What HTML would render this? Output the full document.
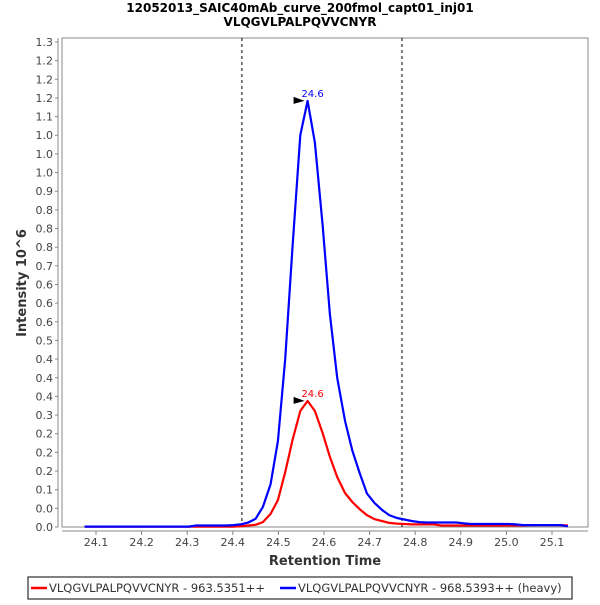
<!DOCTYPE html>
<html><head><meta charset="utf-8"><style>
body{margin:0;background:#fff;width:600px;height:600px;overflow:hidden;font-family:"Liberation Sans","DejaVu Sans",sans-serif}
</style></head><body>
<svg id="c" width="600" height="600" xmlns="http://www.w3.org/2000/svg" font-family="DejaVu Sans, Liberation Sans, sans-serif">
<text x="300" y="12" text-anchor="middle" font-size="12" font-weight="bold" fill="#000">12052013_SAIC40mAb_curve_200fmol_capt01_inj01</text>
<text x="300" y="26" text-anchor="middle" font-size="12" font-weight="bold" fill="#000">VLQGVLPALPQVVCNYR</text>
<rect x="62" y="38" width="526" height="489" fill="#fff" stroke="#888" stroke-width="1"/>
<g id="yt"></g><g id="xt"></g><g id="series"></g>
<text transform="translate(26,283) rotate(-90)" text-anchor="middle" font-size="13" font-weight="bold" fill="#333">Intensity 10^6</text>
<text x="325" y="565" text-anchor="middle" font-size="13" font-weight="bold" fill="#333">Retention Time</text>
<g>
<rect x="28" y="577" width="544" height="22" fill="#fff" stroke="#000"/>
<line x1="31" y1="588" x2="47" y2="588" stroke="#f00" stroke-width="2.5"/>
<text x="49" y="592" font-size="11.5" fill="#333">VLQGVLPALPQVVCNYR - 963.5351++</text>
<line x1="280" y1="588" x2="296" y2="588" stroke="#00f" stroke-width="2.5"/>
<text x="298" y="592" font-size="11.5" fill="#333">VLQGVLPALPQVVCNYR - 968.5393++ (heavy)</text>
</g>
</svg>
<script>
const times=[24.075,24.091,24.108,24.124,24.140,24.157,24.173,24.189,24.205,24.222,24.238,24.254,24.271,24.287,24.303,24.320,24.336,24.352,24.368,24.385,24.401,24.417,24.434,24.450,24.466,24.483,24.499,24.515,24.531,24.548,24.564,24.580,24.597,24.613,24.629,24.646,24.662,24.678,24.694,24.711,24.727,24.743,24.760,24.776,24.792,24.809,24.825,24.841,24.857,24.874,24.890,24.906,24.923,24.939,24.955,24.972,24.988,25.004,25.020,25.037,25.053,25.069,25.086,25.102,25.118,25.135];
const heavy=[0.001,0.001,0.001,0.001,0.001,0.001,0.001,0.001,0.001,0.001,0.001,0.001,0.001,0.001,0.001,0.004,0.004,0.004,0.004,0.004,0.005,0.007,0.012,0.022,0.054,0.115,0.23,0.45,0.75,1.05,1.142,1.03,0.81,0.57,0.40,0.285,0.205,0.145,0.09,0.064,0.046,0.032,0.024,0.02,0.016,0.013,0.012,0.012,0.012,0.012,0.012,0.01,0.008,0.008,0.008,0.008,0.008,0.008,0.007,0.005,0.005,0.005,0.005,0.005,0.005,0.002];
const light=[0.001,0.001,0.001,0.001,0.001,0.001,0.001,0.001,0.001,0.001,0.001,0.001,0.001,0.001,0.001,0.001,0.001,0.001,0.001,0.001,0.001,0.002,0.004,0.006,0.013,0.035,0.072,0.147,0.233,0.311,0.338,0.311,0.252,0.188,0.134,0.091,0.067,0.048,0.032,0.021,0.016,0.011,0.009,0.008,0.007,0.007,0.007,0.007,0.004,0.004,0.004,0.004,0.004,0.004,0.004,0.004,0.004,0.004,0.004,0.004,0.005,0.005,0.005,0.005,0.005,0.004];
const xTicks=[24.1,24.2,24.3,24.4,24.5,24.6,24.7,24.8,24.9,25.0,25.1];
const xTickLabels=["24.1","24.2","24.3","24.4","24.5","24.6","24.7","24.8","24.9","25.0","25.1"];
const yTicks=[0,0.05,0.1,0.15,0.2,0.25,0.3,0.35,0.4,0.45,0.5,0.55,0.6,0.65,0.7,0.75,0.8,0.85,0.9,0.95,1.0,1.05,1.1,1.15,1.2,1.25,1.3];
const yTickLabels=["0.0","0.0","0.1","0.2","0.2","0.2","0.3","0.4","0.4","0.4","0.5","0.6","0.6","0.6","0.7","0.8","0.8","0.8","0.9","1.0","1.0","1.0","1.1","1.2","1.2","1.2","1.3"];
const boundaries=[24.42,24.771];
const NS="http://www.w3.org/2000/svg";
const X=t=>96+(t-24.1)*456;
const Y=v=>527-v*373.1;
function mk(tag,attrs,parent){const e=document.createElementNS(NS,tag);for(const k in attrs)e.setAttribute(k,attrs[k]);parent.appendChild(e);return e;}
const yt=document.getElementById('yt'),xt=document.getElementById('xt'),sg=document.getElementById('series');
mk('line',{x1:58,y1:38,x2:58,y2:527,stroke:'#888'},yt);
mk('line',{x1:62,y1:531,x2:588,y2:531,stroke:'#888'},xt);
yTicks.forEach((v,i)=>{
 const l=mk('line',{x1:55,x2:58,y1:Y(v),y2:Y(v),stroke:'#888'},yt);
 
 
 const t=mk('text',{x:53,y:Y(v)+4,'text-anchor':'end','font-size':'11',fill:'#444'},yt);
 t.textContent=yTickLabels[i];
 
 
});
xTicks.forEach((v,i)=>{
 const l=mk('line',{x1:X(v),x2:X(v),y1:531,y2:535,stroke:'#888'},xt);
 
 
 const t=mk('text',{x:X(v),y:546,'text-anchor':'middle','font-size':'11',fill:'#444'},xt);
 t.textContent=xTickLabels[i];
 
 
});
boundaries.forEach(b=>{
 const l=mk('line',{x1:X(b),x2:X(b),y1:38,y2:527,stroke:'#000','stroke-dasharray':'3,3','stroke-width':1},sg);
 
 
});
function series(vals,color,name){
 const d=vals.map((v,i)=>(i?'L':'M')+X(times[i]).toFixed(1)+','+Y(v).toFixed(1)).join(' ');
 const p=mk('path',{d:d,fill:'none',stroke:color,'stroke-width':2.2,'stroke-linejoin':'round'},sg);
 
 
 let mi=0;vals.forEach((v,i)=>{if(v>vals[mi])mi=i;});
 const px=X(times[mi]),py=Y(vals[mi]);
 const m=mk('path',{d:`M${px-14},${py-4} L${px-3},${py} L${px-14},${py+3} Z`,fill:'#000'},sg);
 
 
 const t=mk('text',{x:px+5,y:py-4,'text-anchor':'middle','font-size':'10',fill:color},sg);
 t.textContent=times[mi].toFixed(1);
 
 
}
series(light,'#f00','light-series');
series(heavy,'#00f','heavy-series');
</script>
</body></html>
